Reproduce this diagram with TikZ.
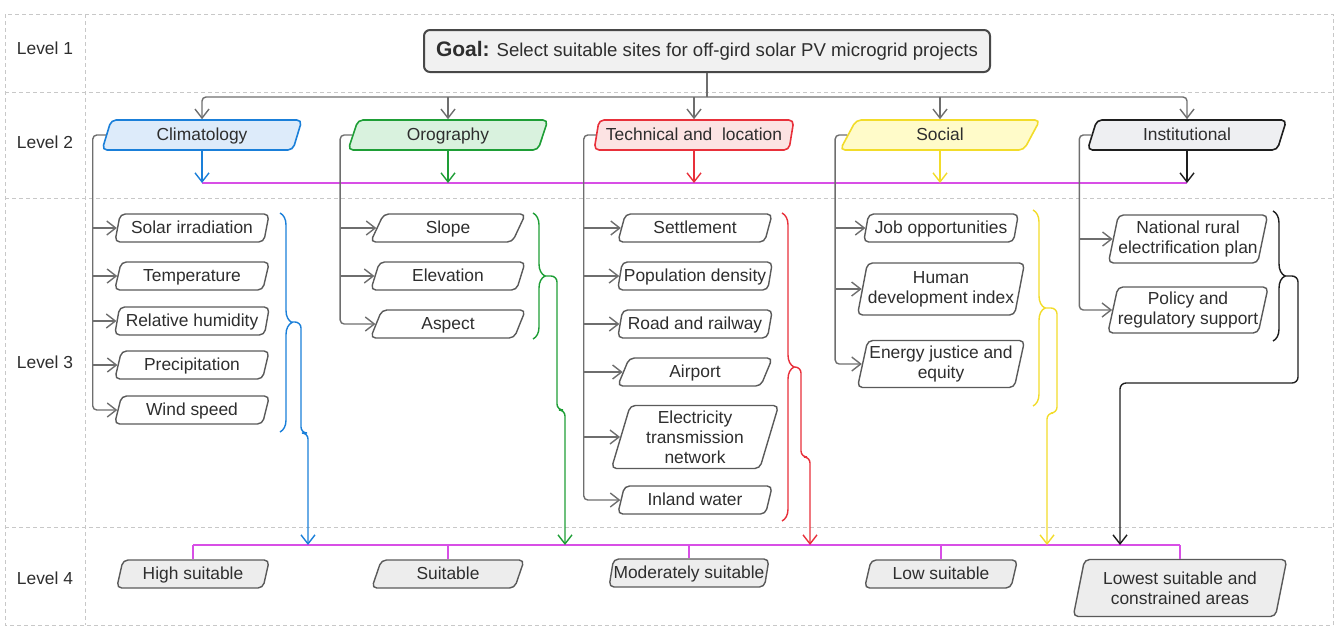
\documentclass[tikz,border=0pt]{standalone}
\usepackage{fontspec}
\setmainfont{Liberation Sans}
\usepackage{tikz}
\usetikzlibrary{shapes,arrows.meta,decorations.pathreplacing}
\usepackage{xcolor}
\definecolor{boxgray}{HTML}{5A5A5A}
\definecolor{linegray}{HTML}{6E6E6E}
\definecolor{lanegray}{HTML}{C8C8C8}
\definecolor{textgray}{HTML}{2E2E2E}
\definecolor{climline}{HTML}{1A7FD9}
\definecolor{climfill}{HTML}{DDEBFA}
\definecolor{oroline}{HTML}{1E9E36}
\definecolor{orofill}{HTML}{D9F2DE}
\definecolor{techline}{HTML}{E8303A}
\definecolor{techfill}{HTML}{FCE3E3}
\definecolor{socline}{HTML}{F2DC2A}
\definecolor{socfill}{HTML}{FFFBC9}
\definecolor{instline}{HTML}{1E1E1E}
\definecolor{instfill}{HTML}{EEEFF2}
\definecolor{busline}{HTML}{D84FE6}
\definecolor{goalfill}{HTML}{F1F1F1}
\definecolor{lowfill}{HTML}{EDEDED}
\tikzstyle{para}=[trapezium, trapezium left angle=76, trapezium right angle=104, trapezium stretches=true,
rounded corners=2.5pt, draw=boxgray, line width=0.7pt, align=center, inner xsep=0pt, inner ysep=1pt,
text=textgray, font=\fontsize{8.7}{10}\selectfont]
\tikzstyle{oneline}=[text height=6.3pt, text depth=0.8pt]
\tikzstyle{criterion}=[para, oneline, fill=white, minimum width=77.5pt, minimum height=14pt]
\tikzstyle{criterionml}=[para, fill=white]
\tikzstyle{factor}=[para, oneline, line width=0.8pt, minimum width=100pt, minimum height=15pt]
\tikzstyle{klass}=[para, oneline, fill=lowfill, minimum width=76.5pt, minimum height=14pt]
\tikzstyle{lvl}=[text=textgray, font=\fontsize{8.7}{10}\selectfont]
\tikzstyle{treeline}=[draw=linegray, line width=0.7pt, rounded corners=2pt]
\tikzstyle{treearr}=[treeline, -{Straight Barb[length=4.5pt,width=7pt]}]
\tikzstyle{feedarr}=[line width=0.7pt, -{Straight Barb[length=4.5pt,width=7pt]}]
\tikzstyle{bus}=[draw=busline, line width=0.8pt]
\tikzstyle{bracegrp}=[decorate, decoration={brace, amplitude=6pt}, line width=0.7pt]
\tikzstyle{lanes}=[draw=lanegray, line width=0.5pt, dash pattern=on 2pt off 1.5pt]
\begin{document}
\begin{tikzpicture}[x=0.5pt, y=-0.5pt]
            \useasboundingbox (0,0) rectangle (1336,628);
            \draw[lanes] (5,14) rectangle (1333,625);
            \draw[lanes] (85,14) -- (85,625);
            \draw[lanes] (5,92) -- (1333,92);
            \draw[lanes] (5,198) -- (1333,198);
            \draw[lanes] (5,527) -- (1333,527);

            \node (l1)[lvl] at (45,48) {Level 1};
            \node (l2)[lvl] at (45,142) {Level 2};
            \node (l3)[lvl] at (45,362) {Level 3};
            \node (l4)[lvl] at (45,578) {Level 4};

            \node (goal)[rectangle, rounded corners=3pt, draw=boxgray!80!black, fill=goalfill, line width=1pt, text=textgray,
                minimum width=283pt, minimum height=21pt, font=\fontsize{9.3}{11}\selectfont] at (707,51)
                {{\fontsize{10.5}{12}\selectfont\textbf{Goal:}} Select suitable sites for off-gird solar PV microgrid projects};

            \node (clim)[factor, draw=climline, fill=climfill] at (202,135) {Climatology};
            \node (oro)[factor, draw=oroline, fill=orofill] at (448,135) {Orography};
            \node (tech)[factor, draw=techline, fill=techfill] at (694,135) {Technical and~ location};
            \node (soc)[factor, draw=socline, fill=socfill] at (940,135) {Social};
            \node (inst)[factor, draw=instline, fill=instfill] at (1187,135) {Institutional};

            \node (c1)[criterion] at (192,228) {Solar irradiation};
            \node (c2)[criterion] at (192,276) {Temperature};
            \node (c3)[criterion] at (192,321) {Relative humidity};
            \node (c4)[criterion] at (192,365) {Precipitation};
            \node (c5)[criterion] at (192,410) {Wind speed};

            \node (o1)[criterion] at (448,228) {Slope};
            \node (o2)[criterion] at (448,276) {Elevation};
            \node (o3)[criterion] at (448,324) {Aspect};

            \node (t1)[criterion] at (695,228) {Settlement};
            \node (t2)[criterion] at (695,276) {Population density};
            \node (t3)[criterion] at (695,324) {Road and railway};
            \node (t4)[criterion] at (695,372) {Airport};
            \node (t5)[criterionml, minimum width=84pt, minimum height=31.5pt] at (695,437)
                {Electricity\\transmission\\network};
            \node (t6)[criterion] at (695,500) {Inland water};

            \node (s1)[criterion] at (941,228) {Job opportunities};
            \node (s2)[criterionml, minimum width=84pt, minimum height=26pt] at (941,289) {Human\\development index};
            \node (s3)[criterionml, minimum width=84pt, minimum height=23.5pt] at (941,364) {Energy justice and\\equity};

            \node (i1)[criterionml, minimum width=80pt, minimum height=24pt] at (1188,239) {National rural\\electrification plan};
            \node (i2)[criterionml, minimum width=80pt, minimum height=23pt] at (1188,310) {Policy and\\regulatory support};

            \node (hs)[klass] at (193,574) {High suitable};
            \node (su)[klass] at (448,574) {Suitable};
            \node (ms)[klass] at (689,573) {Moderately suitable};
            \node (ls)[klass] at (941,574) {Low suitable};
            \node (lw)[para, fill=lowfill, minimum width=107pt, minimum height=28.5pt] at (1180,588) {Lowest suitable and\\constrained areas};

            \coordinate (gbus) at (0,97);
            \draw[treeline] (goal.south) -- (goal.south |- gbus);
            \draw[treearr] (goal.south |- gbus) -| (clim.north);
            \draw[treearr] (goal.south |- gbus) -| (inst.north);
            \draw[treearr] (oro.north |- gbus) -- (oro.north);
            \draw[treearr] (tech.north |- gbus) -- (tech.north);
            \draw[treearr] (soc.north |- gbus) -- (soc.north);

            \coordinate (tbus) at (0,183);
            \draw[bus] (clim.south |- tbus) -- (inst.south |- tbus);
            \draw[feedarr, climline] (clim.south) -- (clim.south |- tbus);
            \draw[feedarr, oroline] (oro.south) -- (oro.south |- tbus);
            \draw[feedarr, techline] (tech.south) -- (tech.south |- tbus);
            \draw[feedarr, socline] (soc.south) -- (soc.south |- tbus);
            \draw[feedarr, instline] (inst.south) -- (inst.south |- tbus);

            \draw[treearr] (clim.west) -- ++(-13,0) coordinate (cv) |- (c5.west);
            \draw[treearr] (cv |- c1.west) -- (c1.west);
            \draw[treearr] (cv |- c2.west) -- (c2.west);
            \draw[treearr] (cv |- c3.west) -- (c3.west);
            \draw[treearr] (cv |- c4.west) -- (c4.west);

            \draw[treearr] (oro.west) -- ++(-12,0) coordinate (ov) |- (o3.west);
            \draw[treearr] (ov |- o1.west) -- (o1.west);
            \draw[treearr] (ov |- o2.west) -- (o2.west);

            \draw[treearr] (tech.west) -- ++(-12,0) coordinate (tv) |- (t6.west);
            \draw[treearr] (tv |- t1.west) -- (t1.west);
            \draw[treearr] (tv |- t2.west) -- (t2.west);
            \draw[treearr] (tv |- t3.west) -- (t3.west);
            \draw[treearr] (tv |- t4.west) -- (t4.west);
            \draw[treearr] (tv |- t5.west) -- (t5.west);

            \draw[treearr] (soc.west) -- ++(-12,0) coordinate (sv) |- (s3.west);
            \draw[treearr] (sv |- s1.west) -- (s1.west);
            \draw[treearr] (sv |- s2.west) -- (s2.west);

            \draw[treearr] (inst.west) -- ++(-12,0) coordinate (iv) |- (i2.west);
            \draw[treearr] (iv |- i1.west) -- (i1.west);

            \coordinate (bbus) at (0,545);
            \draw[bus] (hs.north |- bbus) -- (lw.north |- bbus);
            \draw[bus] (hs.north |- bbus) -- (hs.north);
            \draw[bus] (su.north |- bbus) -- (su.north);
            \draw[bus] (ms.north |- bbus) -- (ms.north);
            \draw[bus] (ls.north |- bbus) -- (ls.north);
            \draw[bus] (lw.north |- bbus) -- (lw.north);

            \draw[bracegrp, climline] (280,213) -- (280,432);
            \coordinate (b1) at (292,322);
            \coordinate (a1) at (308,545);
            \draw[feedarr, climline, rounded corners=3pt] (b1) -- (301,322) -- (301,433) -- (308,433) -- (a1);

            \draw[bracegrp, oroline] (533,213) -- (533,339);
            \coordinate (b2) at (545,276);
            \coordinate (a2) at (565,545);
            \draw[feedarr, oroline, rounded corners=3pt] (b2) -- (557,276) -- (557,410) -- (565,410) -- (a2);

            \draw[bracegrp, techline] (782,213) -- (782,521);
            \coordinate (b3) at (794,367);
            \coordinate (a3) at (810,545);
            \draw[feedarr, techline, rounded corners=3pt] (b3) -- (801,367) -- (801,457) -- (810,457) -- (a3);

            \draw[bracegrp, socline] (1033,210) -- (1033,406);
            \coordinate (b4) at (1045,308);
            \coordinate (a4) at (1047,545);
            \draw[feedarr, socline, rounded corners=3pt] (b4) -- (1057,308) -- (1057,413) -- (1047,413) -- (a4);

            \draw[bracegrp, instline] (1273,211) -- (1273,341);
            \coordinate (b5) at (1285,276);
            \coordinate (a5) at (1120,545);
            \draw[feedarr, instline, rounded corners=3pt] (b5) -- (1298,276) -- (1298,383) -- (1120,383) -- (a5);
        \end{tikzpicture}
\end{document}
